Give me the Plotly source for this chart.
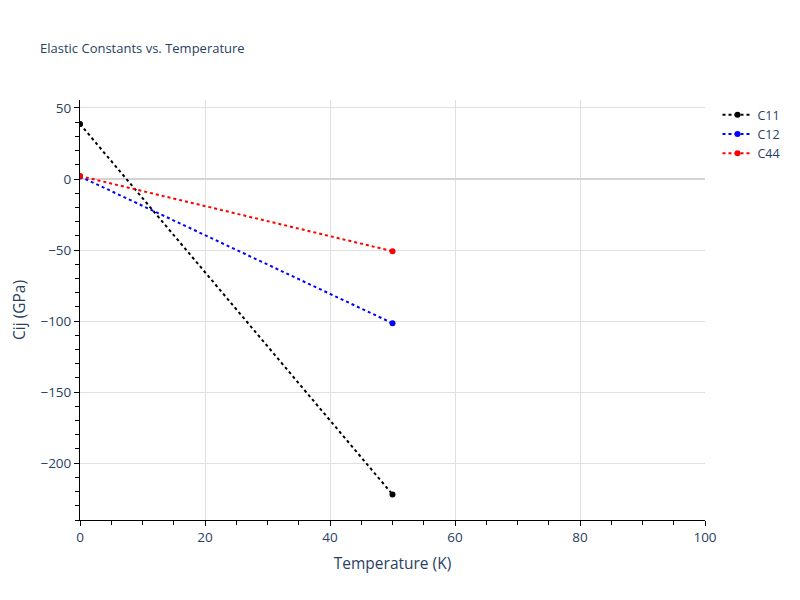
import plotly.graph_objects as go

temperature = [0, 50]
c11 = [38.7, -222.0]
c12 = [1.8, -101.5]
c44 = [2.1, -50.8]
names = ["C11", "C12", "C44"]
colors = ["black", "blue", "red"]

fig = go.Figure()
for name, vals, col in zip(names, [c11, c12, c44], colors):
    fig.add_trace(go.Scatter(
        x=temperature, y=vals, name=name, mode="lines+markers",
        line=dict(color=col, dash="dot", width=2),
        marker=dict(color=col, size=6),
    ))

fig.update_layout(
    template="plotly_white",
    width=800, height=600,
    title=dict(text="Elastic Constants vs. Temperature", font=dict(size=13), x=0.04, y=0.94),
    margin=dict(l=72, r=103, t=92, b=88),
    legend=dict(x=1.02, y=1, font=dict(size=12.5)),
    font=dict(family="Open Sans, sans-serif", size=13),
)
axis_common = dict(
    showline=True, linecolor="black", linewidth=1,
    ticks="outside", tickcolor="black", ticklen=5,
    showgrid=True, gridcolor="#e0e0e0", gridwidth=1,
    zeroline=True, zerolinecolor="#d3d3d3", zerolinewidth=2,
    tickfont=dict(size=13.5),
    automargin=False,
)
fig.update_xaxes(title=dict(text="Temperature (K)", font=dict(size=15.5), standoff=12),
                 range=[0, 100], dtick=20,
                 minor=dict(dtick=5, ticks="outside", ticklen=4, tickcolor="black", showgrid=False),
                 **axis_common)
fig.update_yaxes(title=dict(text="Cij (GPa)", font=dict(size=15.5), standoff=22),
                 range=[-240, 55.6], dtick=50,
                 minor=dict(dtick=10, ticks="outside", ticklen=4, tickcolor="black", showgrid=False),
                 **axis_common)

fig.write_html("out.html")
